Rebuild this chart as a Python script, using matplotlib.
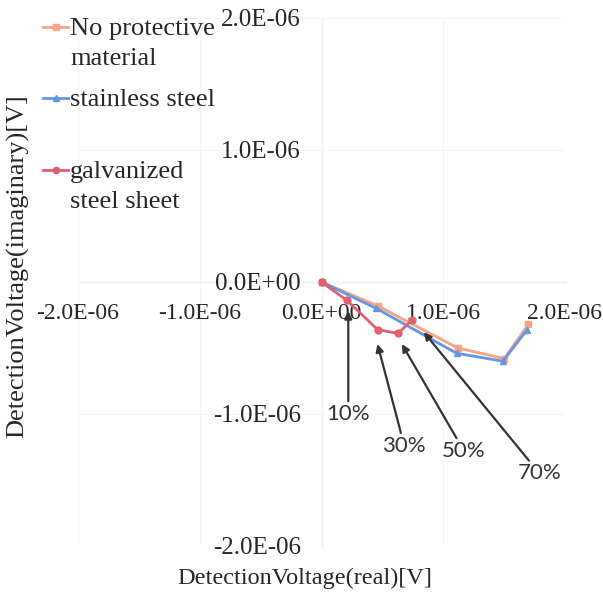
import matplotlib
matplotlib.use("Agg")
import matplotlib.pyplot as plt
from matplotlib.ticker import FuncFormatter
from matplotlib.lines import Line2D

# ---- data ----
series_names = ["No protective\nmaterial", "stainless steel", "galvanized\nsteel sheet"]
none_x = [0.0, 0.46e-6, 1.12e-6, 1.50e-6, 1.70e-6]
none_y = [0.0, -0.18e-6, -0.50e-6, -0.58e-6, -0.32e-6]
sus_x = [0.0, 0.45e-6, 1.11e-6, 1.49e-6, 1.69e-6]
sus_y = [0.0, -0.20e-6, -0.54e-6, -0.60e-6, -0.36e-6]
galv_x = [0.0, 0.21e-6, 0.46e-6, 0.63e-6, 0.74e-6]
galv_y = [0.0, -0.14e-6, -0.36e-6, -0.39e-6, -0.29e-6]

ann_labels = ["10%", "30%", "50%", "70%"]
ann_head_x = [0.22e-6, 0.46e-6, 0.66e-6, 0.84e-6]
ann_head_y = [-0.22e-6, -0.47e-6, -0.47e-6, -0.38e-6]
ann_text_x = [0.22e-6, 0.68e-6, 1.17e-6, 1.79e-6]
ann_text_y = [-1.00e-6, -1.24e-6, -1.28e-6, -1.45e-6]

ticks = [-2e-6, -1e-6, 0.0, 1e-6, 2e-6]

colors = ["#F5A583", "#6495E6", "#E0606E"]
markers = ["s", "^", "o"]

serif = ["Liberation Serif", "DejaVu Serif"]
txt_color = "#262626"

fig = plt.figure(figsize=(6.03, 5.94), dpi=100)
ax = fig.add_axes([78 / 603, 1 - 546 / 594, (565 - 78) / 603, (546 - 18) / 594])

xs = [none_x, sus_x, galv_x]
ys = [none_y, sus_y, galv_y]
for x, y, c, m in zip(xs, ys, colors, markers):
    ax.plot(x, y, color=c, marker=m, markersize=5, linewidth=2, zorder=3)

ax.set_xlim(-2e-6, 2e-6)
ax.set_ylim(-2e-6, 2e-6)
ax.set_xticks(ticks)
ax.set_yticks(ticks)
fmt = FuncFormatter(lambda v, p: f"{v:.1E}")
ax.xaxis.set_major_formatter(fmt)
ax.yaxis.set_major_formatter(fmt)
ax.grid(True, color="#f5f5f5", linewidth=0.8, zorder=0)

for s in ["top", "right"]:
    ax.spines[s].set_visible(False)
ax.spines["left"].set_position(("data", 0))
ax.spines["bottom"].set_position(("data", 0))
for s in ["left", "bottom"]:
    ax.spines[s].set_color("#e4e4e4")
    ax.spines[s].set_linewidth(1.0)
    ax.spines[s].set_zorder(1)
ax.tick_params(axis="both", length=0, colors=txt_color)
ax.tick_params(axis="x", pad=15, labelsize=17)
ax.tick_params(axis="y", pad=15, labelsize=18)
for lab in ax.get_xticklabels() + ax.get_yticklabels():
    lab.set_family(serif)
    lab.set_color(txt_color)

# axis titles
fig.text(18 / 603, 1 - 266 / 594, "DetectionVoltage(imaginary)[V]", rotation=90,
         ha="center", va="center", fontsize=19, family=serif, color=txt_color)
fig.text(305 / 603, 1 - 578 / 594, "DetectionVoltage(real)[V]",
         ha="center", va="center", fontsize=17.5, family=serif, color=txt_color)

# annotations
for lab, hx, hy, tx, ty in zip(ann_labels, ann_head_x, ann_head_y, ann_text_x, ann_text_y):
    ax.annotate(lab, xy=(hx, hy), xytext=(tx, ty), ha="center", va="center",
                fontsize=16, family=["Lato", "DejaVu Sans"], color="#333333",
                arrowprops=dict(arrowstyle="-|>", color="#333333", lw=1.6,
                                shrinkA=0, shrinkB=0, mutation_scale=11), zorder=4)

# legend (manual, so the keys sit on the first text line)
leg_rows = [27, 98, 170]
for name, c, m, yr in zip(series_names, colors, markers, leg_rows):
    yf = 1 - yr / 594
    fig.add_artist(Line2D([43 / 603, 55.5 / 603, 68 / 603], [yf, yf, yf], color=c,
                          linewidth=2, marker=m, markersize=4.5, markevery=[1],
                          transform=fig.transFigure))
    for i, line in enumerate(name.split("\n")):
        fig.text(70 / 603, 1 - (yr + 8 + 30 * i) / 594, line, ha="left", va="baseline",
                 fontsize=19, family=serif, color=txt_color)

fig.savefig("out.png", dpi=100)
